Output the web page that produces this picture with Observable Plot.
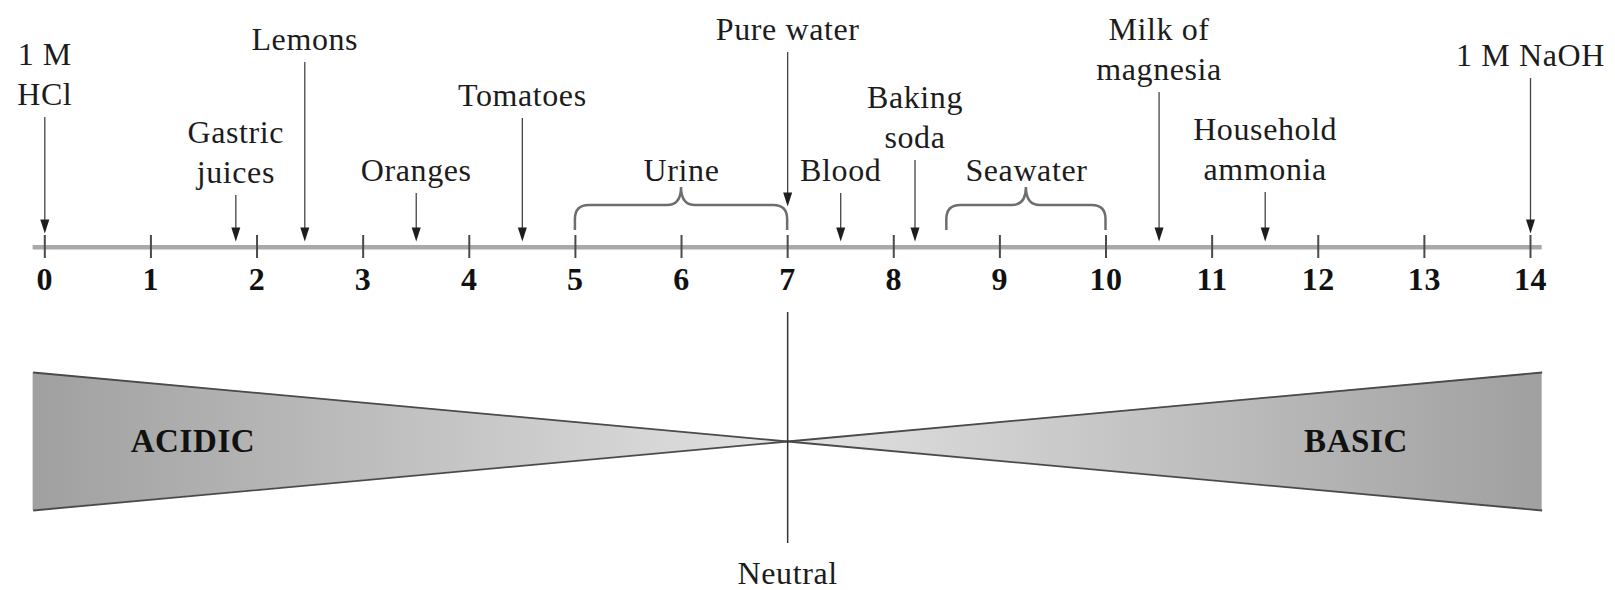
<!DOCTYPE html>
<html>
<head>
<meta charset="utf-8">
<script src="https://cdn.jsdelivr.net/npm/d3@7"></script>
<script src="https://cdn.jsdelivr.net/npm/@observablehq/plot@0.6"></script>
<style>
  html, body { margin: 0; padding: 0; background: #fff; overflow: hidden; }
  #chart svg { display: block; }
</style>
</head>
<body>
<div id="chart"></div>
<script>
// ---------- DATA ----------
const substanceLabels = ["1 M\nHCl", "Gastric\njuices", "Lemons", "Oranges", "Tomatoes", "Pure water", "Blood", "Baking\nsoda", "Milk of\nmagnesia", "Household\nammonia", "1 M NaOH"];
const substancePH = [0, 1.8, 2.45, 3.5, 4.5, 7, 7.5, 8.2, 10.5, 11.5, 14];

const rangeNames = ["Urine", "Seawater"];
const rangeLow = [5, 8.5];
const rangeHigh = [7, 10];

const tickValues = [0, 1, 2, 3, 4, 5, 6, 7, 8, 9, 10, 11, 12, 13, 14];
const tickLabels = ["0", "1", "2", "3", "4", "5", "6", "7", "8", "9", "10", "11", "12", "13", "14"];

const regionNames = ["ACIDIC", "BASIC"];
const neutralPH = 7;
const neutralLabel = "Neutral";

// ---------- LAYOUT (pixels) ----------
const W = 1615, H = 590;
const font = "Liberation Serif";
const fs = 32, lineGap = 40;
const firstLineY = {
  "1 M\nHCl": 52, "Gastric\njuices": 130, "Lemons": 37, "Oranges": 168, "Tomatoes": 93,
  "Pure water": 27, "Blood": 168, "Baking\nsoda": 95, "Milk of\nmagnesia": 27,
  "Household\nammonia": 127, "1 M NaOH": 53
};
const rangeLabelY = 168;
const arrowGap = 25;
const axisY = 246.7, axisPad = 0.11;
const tickTop = 235, tickBottom = 258, tickLabelY = 279;
const braceTop = 205, braceBottom = 230, bracePeak = 187, braceR = 14;
const triTop = 372, triBottom = 510, triMid = 441;
const neutralTop = 312, neutralBottom = 543, neutralLabelY = 571;
const regionLabelX = [193, 1356];

// ---------- derived tables ----------
const items = substanceLabels.map((label, i) => {
  const n = label.split("\n").length;
  const first = firstLineY[label];
  const ph = substancePH[i];
  let tip = 241;
  if (rangeHigh.includes(ph) || rangeLow.includes(ph)) tip = braceTop + 1;
  else if (tickValues.includes(ph)) tip = tickTop - 2;
  return {label, ph, cy: first + (n - 1) * lineGap / 2, top: first + (n - 1) * lineGap + arrowGap, tip};
});
const ranges = rangeNames.map((name, i) => ({name, lo: rangeLow[i], hi: rangeHigh[i], mid: (rangeLow[i] + rangeHigh[i]) / 2}));
const ticks = tickValues.map((v, i) => ({v, label: tickLabels[i]}));
const axisMin = tickValues[0] - axisPad, axisMax = tickValues[tickValues.length - 1] + axisPad;

const leftTri = [{x: axisMin, y1: triTop, y2: triBottom}, {x: neutralPH, y1: triMid, y2: triMid}];
const rightTri = [{x: neutralPH, y1: triMid, y2: triMid}, {x: axisMax, y1: triTop, y2: triBottom}];
const triEdges = [
  {x1: axisMin, y1: triTop, x2: neutralPH, y2: triMid},
  {x1: axisMin, y1: triBottom, x2: neutralPH, y2: triMid},
  {x1: neutralPH, y1: triMid, x2: axisMax, y2: triTop},
  {x1: neutralPH, y1: triMid, x2: axisMax, y2: triBottom}
];
const regions = regionNames.map((name, i) => ({name, px: regionLabelX[i]}));

// arrowhead symbol: tip at origin, pointing down
const arrowHead = {
  draw(ctx) {
    ctx.moveTo(0, 0);
    ctx.lineTo(-4.5, -14);
    ctx.lineTo(4.5, -14);
    ctx.closePath();
  }
};

const defsMark = () => {
  const d = document.createElementNS("http://www.w3.org/2000/svg", "defs");
  d.innerHTML =
    `<linearGradient id="gAcid" x1="0" x2="1" y1="0" y2="0">
       <stop offset="0" stop-color="#a0a0a0"/><stop offset="1" stop-color="#e2e2e2"/>
     </linearGradient>
     <linearGradient id="gBase" x1="0" x2="1" y1="0" y2="0">
       <stop offset="0" stop-color="#e2e2e2"/><stop offset="1" stop-color="#a0a0a0"/>
     </linearGradient>`;
  return d;
};

const braceMark = (index, scales) => {
  const g = d3.create("svg:g").attr("fill", "none").attr("stroke", "#6e6e6e").attr("stroke-width", 2.5);
  const r = braceR;
  for (const rg of ranges) {
    const x1 = scales.x(rg.lo), x2 = scales.x(rg.hi), xm = scales.x(rg.mid);
    const p = d3.path();
    p.moveTo(x1, braceBottom);
    p.lineTo(x1, braceTop + r);
    p.quadraticCurveTo(x1, braceTop, x1 + r, braceTop);
    p.lineTo(xm - r, braceTop);
    p.quadraticCurveTo(xm, braceTop, xm, bracePeak);
    p.quadraticCurveTo(xm, braceTop, xm + r, braceTop);
    p.lineTo(x2 - r, braceTop);
    p.quadraticCurveTo(x2, braceTop, x2, braceTop + r);
    p.lineTo(x2, braceBottom);
    g.append("path").attr("d", p.toString());
  }
  return g.node();
};

const regionMark = () => {
  const g = d3.create("svg:g");
  for (const r of regions) {
    g.append("text").attr("x", r.px).attr("y", triMid).attr("dy", "0.34em")
      .attr("text-anchor", "middle").attr("font-family", font).attr("font-weight", "bold")
      .attr("font-size", 33).attr("fill", "#111").text(r.name);
  }
  return g.node();
};

const textStyle = {fontFamily: font, fontSize: fs, fill: "#1c1c1c", lineHeight: lineGap / fs};

const chart = Plot.plot({
  width: W,
  height: H,
  marginLeft: 44.3,
  marginRight: W - 1530,
  marginTop: 0,
  marginBottom: 0,
  style: {background: "#fff", letterSpacing: "0.6px"},
  x: {domain: [tickValues[0], tickValues[tickValues.length - 1]], axis: null},
  y: {type: "identity", axis: null},
  marks: [
    defsMark,
    // pH scale triangles
    Plot.area(leftTri, {x1: "x", y1: "y1", y2: "y2", fill: "url(#gAcid)"}),
    Plot.area(rightTri, {x1: "x", y1: "y1", y2: "y2", fill: "url(#gBase)"}),
    Plot.link(triEdges, {x1: "x1", y1: "y1", x2: "x2", y2: "y2", stroke: "#4a4a4a", strokeWidth: 1.8}),
    regionMark,
    // neutral line
    Plot.ruleX([neutralPH], {x: d => d, y1: neutralTop, y2: neutralBottom, stroke: "#333", strokeWidth: 1.5}),
    Plot.text([neutralLabel], {x: neutralPH, y: neutralLabelY, text: d => d, ...textStyle}),
    // axis
    Plot.ruleY([axisY], {y: d => d, x1: axisMin, x2: axisMax, stroke: "#a9a9a9", strokeWidth: 4.5}),
    Plot.ruleX(ticks, {x: "v", y1: tickTop, y2: tickBottom, stroke: "#4a4a4a", strokeWidth: 2}),
    Plot.text(ticks, {x: "v", y: tickLabelY, text: "label", fontFamily: font, fontSize: 32, fontWeight: "bold", fill: "#111"}),
    // ranges
    braceMark,
    Plot.text(ranges, {x: "mid", y: rangeLabelY, text: "name", ...textStyle}),
    // substances
    Plot.ruleX(items, {x: "ph", y1: "top", y2: d => d.tip - 8, stroke: "#444", strokeWidth: 1.3}),
    Plot.dot(items, {x: "ph", y: "tip", symbol: arrowHead, fill: "#1e1e1e", stroke: "none", r: 5}),
    Plot.text(items, {x: "ph", y: "cy", text: "label", ...textStyle})
  ]
});

document.getElementById("chart").appendChild(chart);
</script>
</body>
</html>
